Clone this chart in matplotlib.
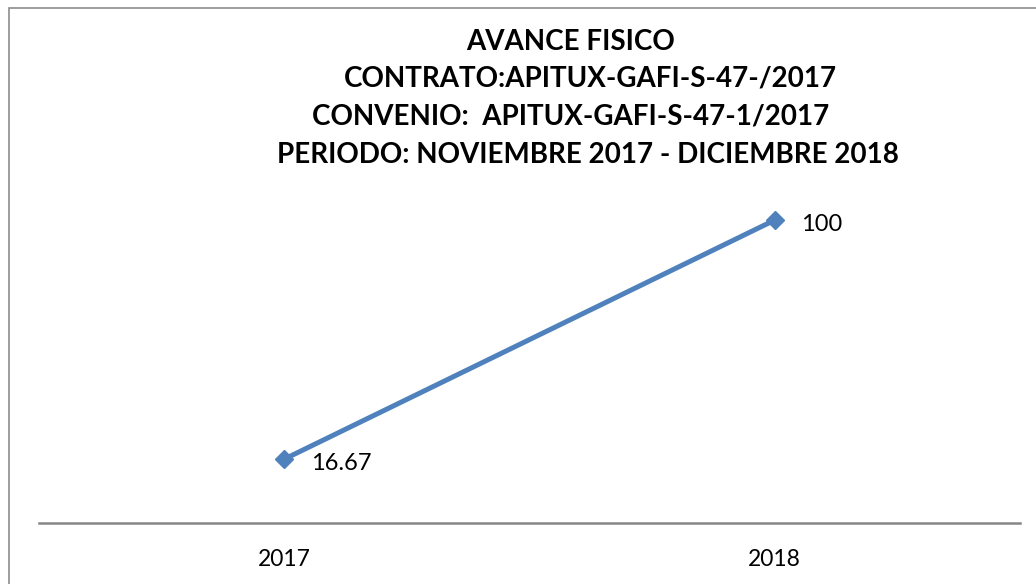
import matplotlib
matplotlib.use("Agg")
import matplotlib.pyplot as plt
from matplotlib.patches import Rectangle

categories = ["2017", "2018"]
values = [16.67, 100]
value_labels = ["16.67", "100"]
title_lines = [
    "AVANCE FISICO",
    "CONTRATO:APITUX-GAFI-S-47-/2017",
    "CONVENIO:  APITUX-GAFI-S-47-1/2017",
    "PERIODO: NOVIEMBRE 2017 - DICIEMBRE 2018",
]

W, H = 1036, 584
fig = plt.figure(figsize=(W / 100, H / 100), dpi=100)
fig.patch.set_facecolor("white")

# outer border
fig.patches.append(Rectangle((9 / W, -0.01), 1.02, (H - 8) / H + 0.01,
                             transform=fig.transFigure, fill=False,
                             edgecolor="#8c8c8c", linewidth=1.2))

left, right = 39 / W, 1020 / W
bottom, top = (H - 523) / H, (H - 200) / H
ax = fig.add_axes([left, bottom, right - left, top - bottom])
ax.set_facecolor("none")

x = list(range(len(categories)))
ax.plot(x, values, color="#4F81BD", linewidth=3.6, marker="D",
        markersize=9.5, markerfacecolor="#4F81BD", markeredgecolor="#4F81BD",
        solid_capstyle="butt")
for xi, v, lab in zip(x, values, value_labels):
    ax.annotate(lab, (xi, v), xytext=(19, -3), textcoords="offset points",
                ha="left", va="center", fontsize=17, family="Lato",
                color="black")

ax.set_xlim(-0.5, 1.5)
ax.set_ylim(-5.6, 107)
ax.set_xticks(x)
ax.set_xticklabels(categories, fontsize=16.5, family="Lato")
ax.tick_params(axis="x", length=0, pad=19)
ax.set_yticks([])
for s in ["left", "right", "top"]:
    ax.spines[s].set_visible(False)
ax.spines["bottom"].set_color("#868686")
ax.spines["bottom"].set_linewidth(1.8)

ys = [42, 79, 116, 155]
xs = [571, 590, 571, 588]
for line, xx, yy in zip(title_lines, xs, ys):
    fig.text(xx / W, 1 - yy / H, line, ha="center", va="center",
             fontsize=20, fontweight="bold", family="Lato", color="black")

fig.savefig("out.png", dpi=100)
